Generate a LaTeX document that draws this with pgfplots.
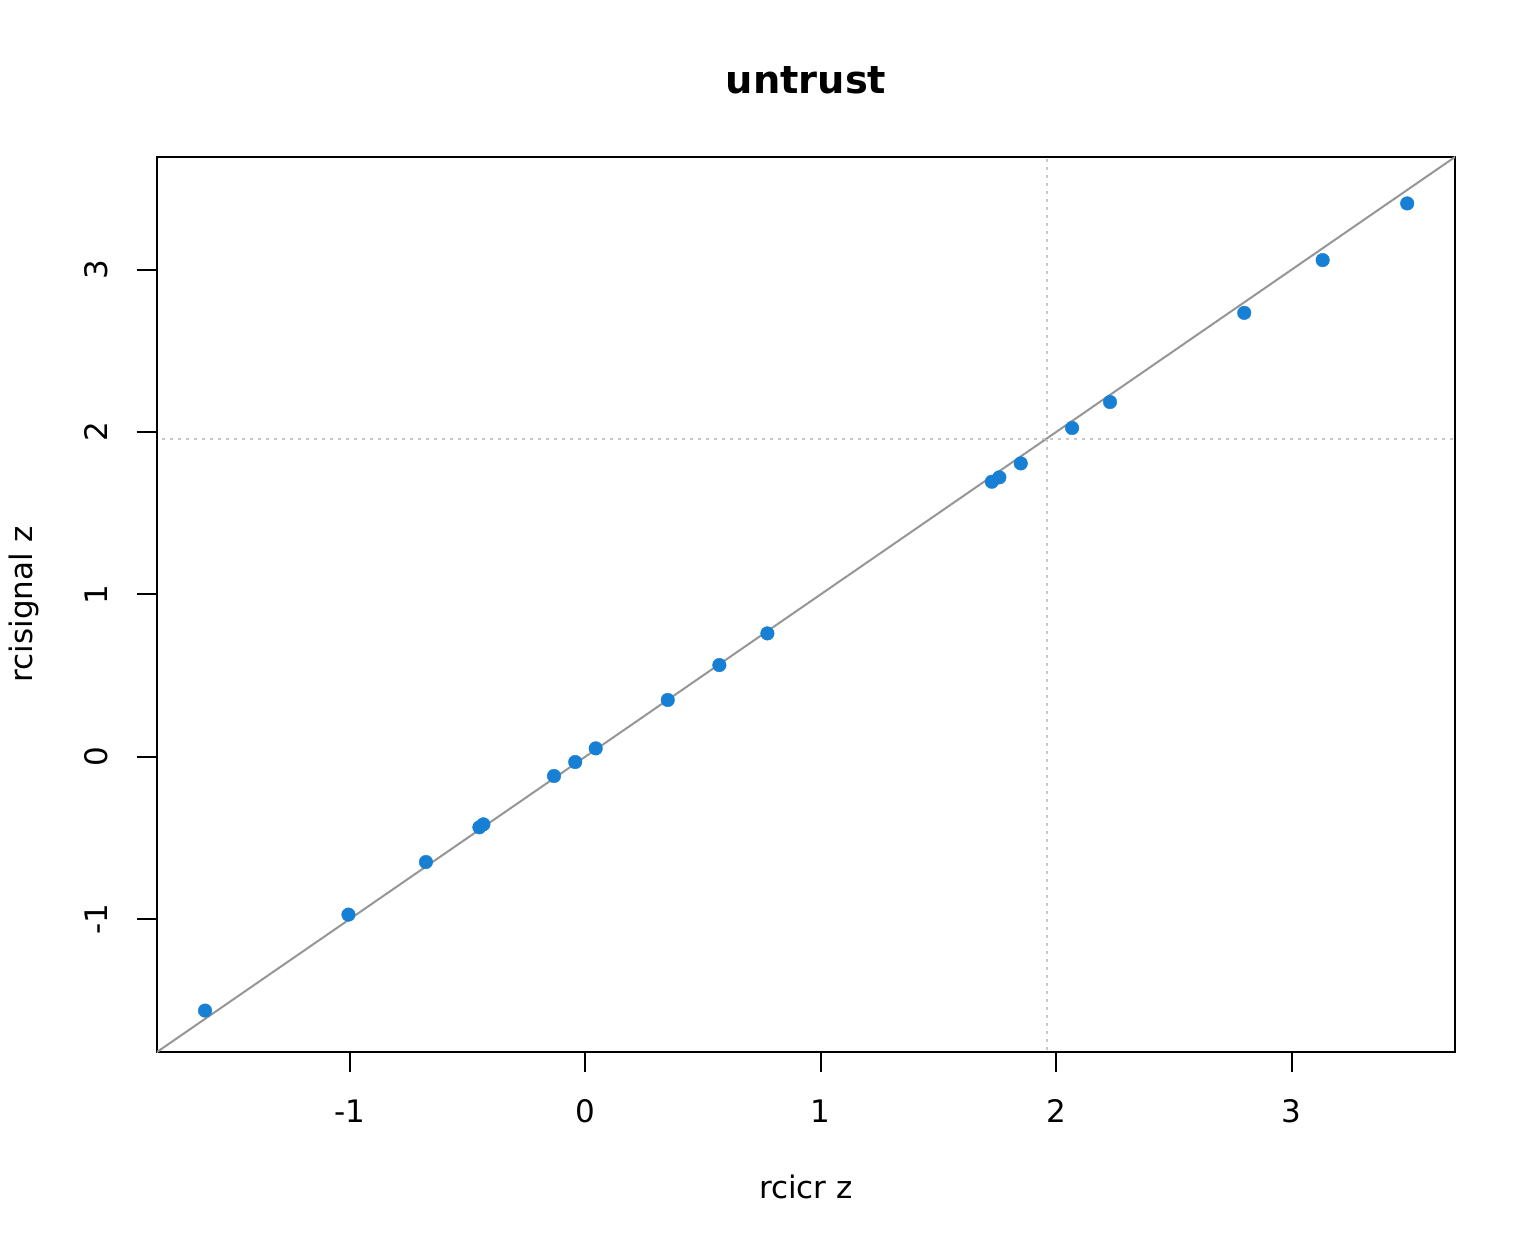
\documentclass[border=0pt]{standalone}
\usepackage{pgfplots}
\pgfplotsset{compat=1.18}
\usepackage{fontspec}
\setmainfont{DejaVu Sans}
\definecolor{ptblue}{RGB}{24,128,212}
\definecolor{diaggray}{RGB}{150,150,150}
\definecolor{dotgray}{RGB}{200,200,200}
\pgfplotstableread{
x y
-1.614 -1.563
-1.005 -0.972
-0.676 -0.648
-0.449 -0.434
-0.432 -0.416
-0.132 -0.118
-0.042 -0.032
0.045 0.052
0.351 0.350
0.570 0.565
0.774 0.760
1.727 1.694
1.759 1.721
1.850 1.807
2.068 2.025
2.229 2.185
2.799 2.734
3.132 3.059
3.491 3.408
}\pts
\begin{document}
\begin{tikzpicture}
\begin{axis}[
  at={(0,0)}, anchor=south west,
  scale only axis,
  width=649pt, height=447.5pt,
  xmin=-1.818, xmax=3.694,
  ymin=-1.818, ymax=3.694,
  axis line style={line width=1pt},
  every tick/.style={black, line width=1pt},
  tick align=outside,
  major tick length=10pt,
  tick pos=left,
  xtick={-1,0,1,2,3}, xticklabels={-1,0,1,2,3},
  ytick={-1,0,1,2,3}, yticklabels={-1,0,1,2,3},
  xticklabel style={font=\fontsize{15.5}{18}\selectfont, anchor=base, inner sep=0pt, yshift=-25.35pt},
  yticklabel style={font=\fontsize{15.5}{18}\selectfont, xshift=-14.5pt, rotate=90, anchor=base, inner sep=0pt},
  title={untrust},
  title style={font=\fontsize{19.2}{22}\selectfont\bfseries, at={(axis description cs:0.5,1.0578)}, anchor=base, inner sep=0pt},
  xlabel={rcicr z},
  xlabel style={font=\fontsize{15.5}{18}\selectfont, at={(axis description cs:0.5,-0.1639)}, anchor=base, inner sep=0pt},
  ylabel={rcisignal z},
  ylabel style={font=\fontsize{15.5}{18}\selectfont, at={(axis description cs:-0.09553,0.5)}, anchor=base, inner sep=0pt},
  clip=true,
]
\addplot[diaggray, line width=1pt, forget plot] coordinates {(-2,-2) (4,4)};
\addplot[dotgray, line width=1pt, dash pattern=on 1.5pt off 2.5pt, forget plot] coordinates {(1.96,-2) (1.96,4)};
\addplot[dotgray, line width=1pt, dash pattern=on 1.5pt off 2.5pt, forget plot] coordinates {(-2,1.96) (4,1.96)};
\addplot[only marks, mark=*, mark size=3.4pt, mark options={fill=ptblue, draw=ptblue, line width=0.2pt}] table[x=x,y=y] {\pts};
\end{axis}
\pgfresetboundingbox
\path[use as bounding box] (-78.5pt,-98pt) rectangle (689.5pt,526pt);
\end{tikzpicture}
\end{document}
